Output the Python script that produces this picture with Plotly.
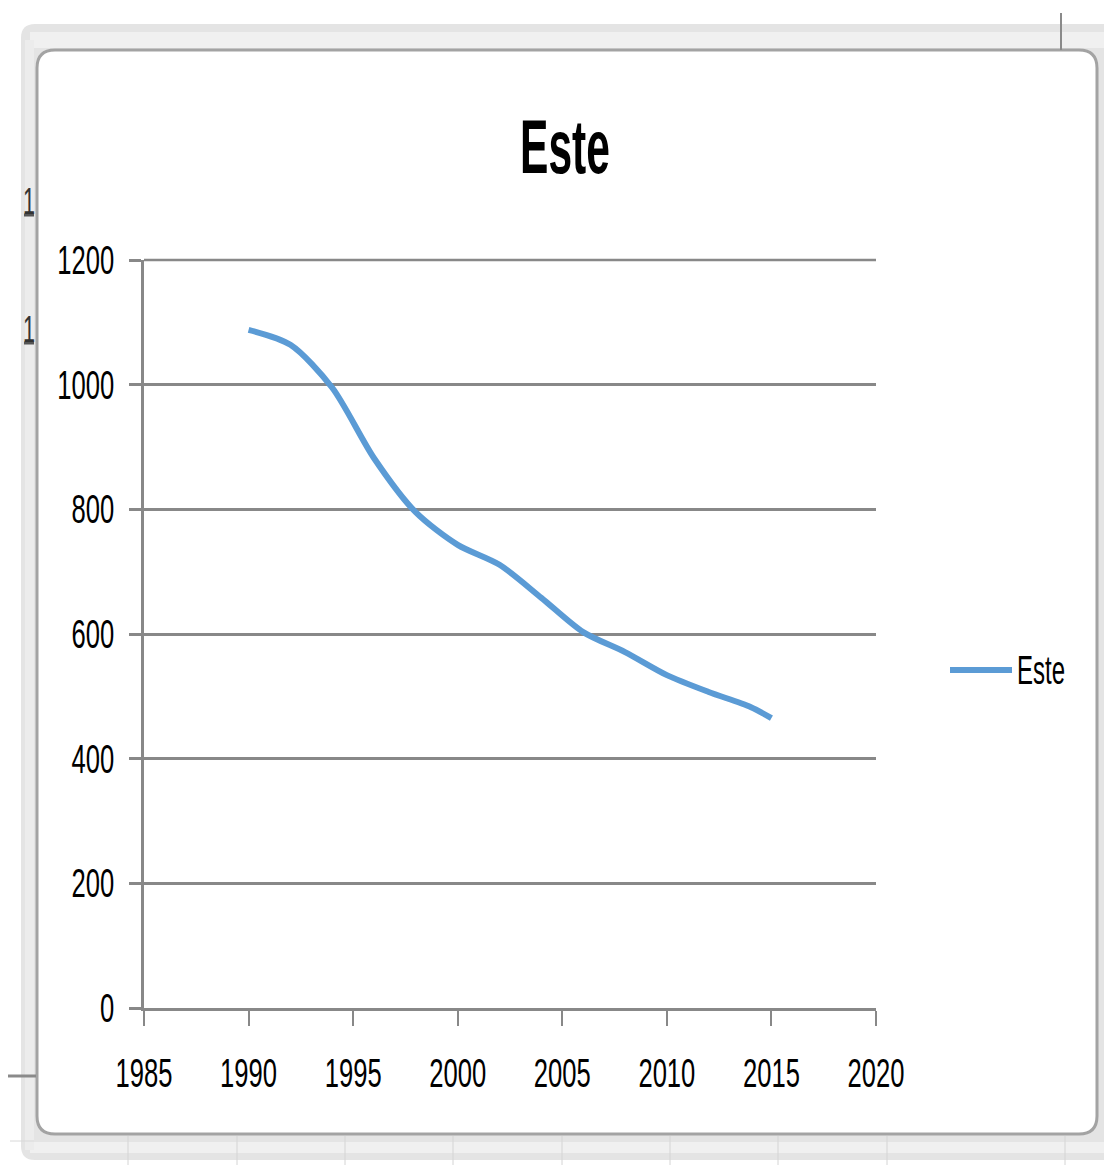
import plotly.graph_objects as go

# ---- data ----
years = [1990, 1992, 1994, 1996, 1998, 2000, 2002, 2004, 2006, 2008, 2010, 2012, 2014, 2015]
values = [1088, 1064, 995, 882, 795, 743, 711, 658, 603, 571, 534, 507, 483, 465]
series_name = "Este"
x_ticks = [1985, 1990, 1995, 2000, 2005, 2010, 2015, 2020]
y_ticks = [0, 200, 400, 600, 800, 1000, 1200]

W, H = 1104, 1165
L, R, T, B = 144, 876, 260, 1008  # plot area in pixels

FONT = "Liberation Sans, Arial, sans-serif"


def px(x):
    return (x - L) / (R - L)


def py(y):
    return (B - y) / (B - T)


def P(x, y):
    return f"{px(x):.5f},{py(y):.5f}"


def rrect(x0, y0, x1, y1, r):
    return (f"M{P(x0 + r, y0)} L{P(x1 - r, y0)} Q{P(x1, y0)} {P(x1, y0 + r)} "
            f"L{P(x1, y1 - r)} Q{P(x1, y1)} {P(x1 - r, y1)} L{P(x0 + r, y1)} "
            f"Q{P(x0, y1)} {P(x0, y1 - r)} L{P(x0, y0 + r)} Q{P(x0, y0)} {P(x0 + r, y0)} Z")


shapes = []
# outer light-grey selection frame
shapes.append(dict(type="path", xref="paper", yref="paper", layer="below",
                   path=rrect(21, 24, 1120, 1160, 14), fillcolor="#E4E4E4", line=dict(width=0)))
shapes.append(dict(type="rect", xref="paper", yref="paper", layer="below",
                   x0=px(30), x1=px(1120), y0=py(32), y1=py(48), fillcolor="#F0F0F0", line=dict(width=0)))
shapes.append(dict(type="rect", xref="paper", yref="paper", layer="below",
                   x0=px(30), x1=px(1120), y0=py(1140), y1=py(1153), fillcolor="#F0F0F0", line=dict(width=0)))
shapes.append(dict(type="rect", xref="paper", yref="paper", layer="below",
                   x0=px(25), x1=px(34), y0=py(40), y1=py(1150), fillcolor="#ECECEC", line=dict(width=0)))
# inner white chart area
shapes.append(dict(type="path", xref="paper", yref="paper", layer="below",
                   path=rrect(37, 50, 1097, 1134, 18), fillcolor="white",
                   line=dict(color="#A3A3A3", width=3)))
# spreadsheet remnants
shapes.append(dict(type="line", xref="paper", yref="paper", x0=px(1061), x1=px(1061),
                   y0=py(13), y1=py(50), line=dict(color="#8A8A8A", width=2)))
shapes.append(dict(type="line", xref="paper", yref="paper", x0=px(8), x1=px(36),
                   y0=py(1076), y1=py(1076), line=dict(color="#8A8A8A", width=3)))
for gx in [128, 237, 345, 453, 562, 670, 778, 887, 1065]:
    shapes.append(dict(type="line", xref="paper", yref="paper", layer="below", x0=px(gx), x1=px(gx),
                       y0=py(1136), y1=py(1165), line=dict(color="#D4D4D4", width=1)))
shapes.append(dict(type="line", xref="paper", yref="paper", layer="below", x0=px(10), x1=px(1104),
                   y0=py(1141), y1=py(1141), line=dict(color="#D8D8D8", width=1)))
# top gridline (1200) - paper-referenced so it is not clipped by the plot area
shapes.append(dict(type="line", xref="paper", yref="paper", layer="below", x0=0, x1=1,
                   y0=1, y1=1, line=dict(color="#888888", width=2.5)))
# legend line
shapes.append(dict(type="line", xref="paper", yref="paper", x0=px(950), x1=px(1012),
                   y0=py(670), y1=py(670), line=dict(color="#5B9BD5", width=6)))
# small row-header marks under the "1" labels on the left
for ry in [215, 343]:
    shapes.append(dict(type="line", xref="paper", yref="paper", x0=px(24), x1=px(34),
                       y0=py(ry), y1=py(ry), line=dict(color="#555555", width=3)))

annotations = [
    dict(text=series_name, xref="paper", yref="paper", x=px(1041), y=py(670),
         xanchor="center", yanchor="middle", showarrow=False,
         font=dict(family=FONT, size=40, color="black")),
    dict(text="1", xref="paper", yref="paper", x=px(29), y=py(201),
         xanchor="center", yanchor="middle", showarrow=False,
         font=dict(family=FONT, size=36, color="#333333")),
    dict(text="1", xref="paper", yref="paper", x=px(29), y=py(329),
         xanchor="center", yanchor="middle", showarrow=False,
         font=dict(family=FONT, size=36, color="#333333")),
]

fig = go.Figure()
fig.add_trace(go.Scatter(
    x=years, y=values, mode="lines", name=series_name,
    line=dict(color="#5B9BD5", width=6, shape="spline", smoothing=0.8),
    showlegend=False,
))

fig.update_layout(
    width=W, height=H, autosize=False,
    margin=dict(l=L, r=W - R, t=T, b=H - B),
    paper_bgcolor="white", plot_bgcolor="rgba(0,0,0,0)",
    title=dict(text="Este", x=565 / W, xanchor="center", y=1 - 146 / H, yanchor="middle",
               font=dict(family=FONT, size=76, color="black", weight="bold")),
    shapes=shapes, annotations=annotations,
    showlegend=False,
)
fig.update_xaxes(
    range=[1985, 2020], tickvals=x_ticks, ticktext=[str(v) for v in x_ticks],
    showgrid=False, zeroline=False, showline=True, linecolor="#888888", linewidth=3,
    ticks="outside", ticklen=15, tickwidth=2, tickcolor="#888888",
    ticklabelstandoff=13,
    tickfont=dict(family=FONT, size=40, color="black"),
)
fig.update_yaxes(
    range=[0, 1200], tickvals=y_ticks, ticktext=[str(v) for v in y_ticks],
    showgrid=True, gridcolor="#888888", gridwidth=2.5, zeroline=False,
    showline=True, linecolor="#888888", linewidth=2.5,
    ticks="outside", ticklen=12, tickwidth=2.5, tickcolor="#888888",
    ticklabelstandoff=7,
    tickfont=dict(family=FONT, size=40, color="black"),
)

# The reference uses a tall, horizontally compressed typeface; squeeze glyphs horizontally.
squeeze_js = """
function squeeze(){
  var rules = [['.gtitle', 0.56], ['.xtick text', 0.64], ['.ytick text', 0.64], ['.annotation-text', 0.6]];
  rules.forEach(function(r){
    document.querySelectorAll(r[0]).forEach(function(t){
      if (t.getAttribute('data-sq')) return;
      var w = t.getComputedTextLength();
      t.setAttribute('textLength', (w * r[1]).toFixed(2));
      t.setAttribute('lengthAdjust', 'spacingAndGlyphs');
      t.setAttribute('data-sq', '1');
    });
  });
}
squeeze();
"""

fig.write_html("out.html", post_script=squeeze_js)
